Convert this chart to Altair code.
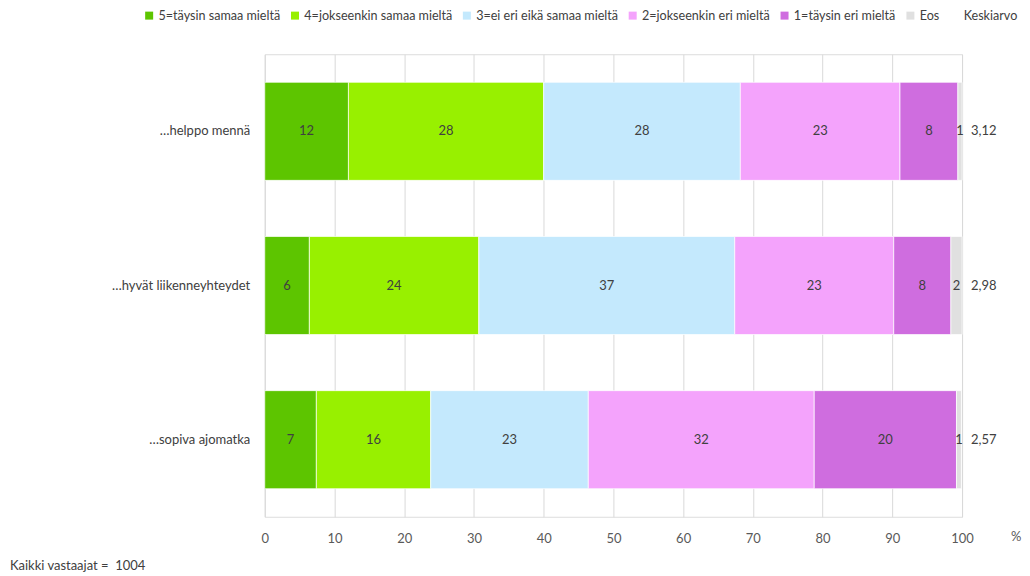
import altair as alt
import pandas as pd

categories = ["…helppo mennä", "…hyvät liikenneyhteydet", "…sopiva ajomatka"]
answers = [
    "5=täysin samaa mieltä",
    "4=jokseenkin samaa mieltä",
    "3=ei eri eikä samaa mieltä",
    "2=jokseenkin eri mieltä",
    "1=täysin eri mieltä",
    "Eos",
]
colors = ["#5dc500", "#98f000", "#c4e9fd", "#f4a3fc", "#cf6ddf", "#e0e0e0"]
helppo = [12.0, 28.0, 28.2, 22.9, 8.3, 0.6]
hyvat = [6.4, 24.3, 36.7, 22.8, 8.2, 1.6]
sopiva = [7.4, 16.4, 22.6, 32.4, 20.4, 0.7]
means = ["3,12", "2,98", "2,57"]
mean_label = "Keskiarvo"
x_ticks = list(range(0, 101, 10))
footnote = "Kaikki vastaajat =\u00a0 1004"

rows = []
for cat, vals in zip(categories, [helppo, hyvat, sopiva]):
    for i, (a, v) in enumerate(zip(answers, vals)):
        rows.append({"cat": cat, "answer": a, "idx": i, "value": v})
df = pd.DataFrame(rows)
mdf = pd.DataFrame({"cat": categories, "mean": means, "pos": [100] * 3})

FONT = "Lato"
W, H = 698, 463

y_enc = alt.Y(
    "cat:N",
    sort=categories,
    scale=alt.Scale(paddingInner=0.364, paddingOuter=0.182),
    axis=alt.Axis(
        title=None, domain=False, ticks=False, labelPadding=15,
        labelFontSize=13, labelColor="#404040", labelFont=FONT, labelLimit=300,
    ),
)
x_scale = alt.Scale(domain=[0, 100], nice=False)

base = alt.Chart(df).transform_stack(
    stack="value", groupby=["cat"], as_=["x0", "x1"], sort=[alt.SortField("idx")]
).transform_calculate(mid="(datum.x0 + datum.x1) / 2")

bars = base.mark_bar(stroke="white", strokeWidth=1, strokeOpacity=0.7).encode(
    x=alt.X(
        "x0:Q", scale=x_scale,
        axis=alt.Axis(
            values=x_ticks, grid=True, gridColor="#d9d9d9", domain=False, ticks=False,
            labelFlush=False,
            labelPadding=16, labelFontSize=13, labelColor="#595959", labelFont=FONT,
            title="%", titleAnchor="end", titleAngle=0, titleX=W + 59, titleY=14,
            titleFontSize=13, titleFontWeight="normal", titleColor="#595959", titleFont=FONT,
        ),
    ),
    x2="x1:Q",
    y=y_enc,
    color=alt.Color(
        "answer:N",
        scale=alt.Scale(domain=answers + [mean_label], range=colors + ["transparent"]),
        legend=alt.Legend(
            title=None, orient="none", direction="horizontal", legendX=-122, legendY=-45,
            symbolType="square", symbolSize=64, symbolStrokeWidth=0,
            labelFontSize=12.6, labelColor="#404040", labelFont=FONT,
            columnPadding=8, labelOffset=3, labelLimit=300,
        ),
    ),
)

labels = base.mark_text(fontSize=13, color="#404040", font=FONT).encode(
    x=alt.X("mid:Q", scale=x_scale),
    y=alt.Y("cat:N", sort=categories),
    text=alt.Text("value:Q", format=".0f"),
)

mean_text = alt.Chart(mdf).mark_text(
    fontSize=13, color="#404040", font=FONT, align="left", dx=9
).encode(
    x=alt.X("pos:Q", scale=x_scale),
    y=alt.Y("cat:N", sort=categories),
    text="mean:N",
)

chart = alt.layer(bars, labels, mean_text).properties(
    width=W, height=H,
    autosize=alt.AutoSizeParams(type="none"),
    padding={"left": 257, "top": 46, "right": 60, "bottom": 55},
    title=alt.TitleParams(
        text=footnote, orient="bottom", anchor="start", frame="group",
        dx=-255, offset=14, fontSize=13, fontWeight="normal", color="#404040", font=FONT,
    ),
).configure_view(strokeWidth=0).configure(background="white")

chart.save("out.html", embed_options={"renderer": "svg", "actions": False})
